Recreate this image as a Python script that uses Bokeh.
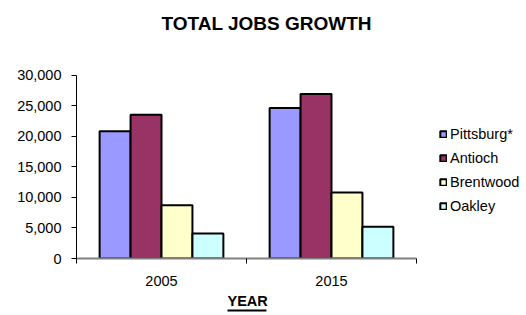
from bokeh.plotting import figure
from bokeh.models import (ColumnDataSource, Legend, LegendItem, FixedTicker, LinearAxis,
                          NumeralTickFormatter, SingleIntervalTicker, Range1d, Label, Title)
from bokeh.transform import dodge
from bokeh.embed import file_html
from bokeh.resources import INLINE

# ---- data ----
title = "TOTAL JOBS GROWTH"
x_title = "YEAR"
years = ["2005", "2015"]
cities = ["Pittsburg*", "Antioch", "Brentwood", "Oakley"]
pittsburg = [20800, 24600]
antioch = [23500, 26900]
brentwood = [8700, 10800]
oakley = [4100, 5200]
colors = ["#9999FF", "#993366", "#FFFFCC", "#CCFFFF"]
y_max = 30000
y_ticks_interval = 5000

FONT = "Liberation Sans"

# ---- layout (pixels) ----
W, H = 526, 315
LEFT, BOTTOM = 76, 57
CAT_PX = 170          # width of one year group
AXIS_TOP_PX = 74.5    # where y_max sits, from the top of the page
frame_h = H - BOTTOM
x_end = (W - LEFT) / CAT_PX
y_end = y_max * frame_h / (frame_h - AXIS_TOP_PX)

series = [pittsburg, antioch, brentwood, oakley]
centers = [i + 0.5 for i in range(len(years))]
src = ColumnDataSource(dict(x=centers, **{f"s{k}": v for k, v in enumerate(series)}))

p = figure(width=W, height=H, output_backend="svg", toolbar_location=None,
           x_range=Range1d(0, x_end), y_range=Range1d(0, y_end),
           min_border_left=LEFT, min_border_right=0, min_border_top=0, min_border_bottom=BOTTOM)
p.outline_line_color = None
p.grid.visible = False
p.background_fill_color = "white"
p.border_fill_color = "white"

bar_w = 0.182
offsets = [-0.273, -0.091, 0.091, 0.273]
items = []
for k, (name, col) in enumerate(zip(cities, colors)):
    r = p.vbar(x=dodge("x", offsets[k], range=p.x_range), top=f"s{k}", bottom=0,
               width=bar_w, source=src, fill_color=col, line_color="black", line_width=2)
    items.append(LegendItem(label=name, renderers=[r]))

# title
p.add_layout(Label(x=85, y=frame_h - 23, x_units="screen", y_units="screen",
                   text=title, text_font=FONT, text_font_size="19px",
                   text_font_style="bold", text_color="black",
                   text_align="left", text_baseline="alphabetic"))

# x axis
xa = p.xaxis[0]
xa.bounds = (0, len(years))
xa.ticker = FixedTicker(ticks=centers, minor_ticks=[i for i in range(len(years) + 1)])
xa.major_label_overrides = {c: y for c, y in zip(centers, years)}
xa.major_tick_in = 0
xa.major_tick_out = 0
xa.minor_tick_in = 0
xa.minor_tick_out = 5
xa.minor_tick_line_color = "black"
xa.axis_line_color = "#808080"
xa.axis_line_width = 2
xa.major_label_standoff = 12
xa.major_label_text_font = FONT
xa.major_label_text_font_size = "14.5px"
xa.major_label_text_color = "black"
xa.major_label_text_line_height = 1.6

# x axis title, centred under the two year groups
p.add_layout(Title(text=x_title, align="left", offset=151, standoff=4,
                   text_font=FONT, text_font_size="14.5px", text_font_style="bold",
                   text_color="black"), "below")

# underline under "YEAR": an extra bare axis whose line is bounded
ul = LinearAxis(ticker=FixedTicker(ticks=[]), bounds=(0.888, 1.118),
                axis_line_color="black", axis_line_width=2,
                major_tick_line_color=None, minor_tick_line_color=None,
                major_tick_out=0, major_tick_in=0, minor_tick_out=0, minor_tick_in=0,
                major_label_standoff=0, axis_label_standoff=0,
                major_label_text_alpha=0)
p.add_layout(ul, "below")

# y axis
ya = p.yaxis[0]
ya.bounds = (0, y_max)
ya.ticker = SingleIntervalTicker(interval=y_ticks_interval)
ya.formatter = NumeralTickFormatter(format="0,0")
ya.minor_tick_line_color = None
ya.major_tick_in = 0
ya.major_tick_out = 5
ya.major_tick_line_color = "black"
ya.axis_line_color = "black"
ya.major_label_standoff = 10
ya.major_label_text_font = FONT
ya.major_label_text_font_size = "14.5px"
ya.major_label_text_color = "black"

legend = Legend(items=items, location=(363, 42), padding=0, margin=0,
                border_line_color=None, background_fill_alpha=0,
                glyph_width=8, glyph_height=8, label_standoff=3,
                label_height=21, spacing=3,
                label_text_font=FONT, label_text_font_size="14.5px",
                label_text_color="black")
p.add_layout(legend, "center")

open("out.html", "w").write(file_html(p, INLINE))
